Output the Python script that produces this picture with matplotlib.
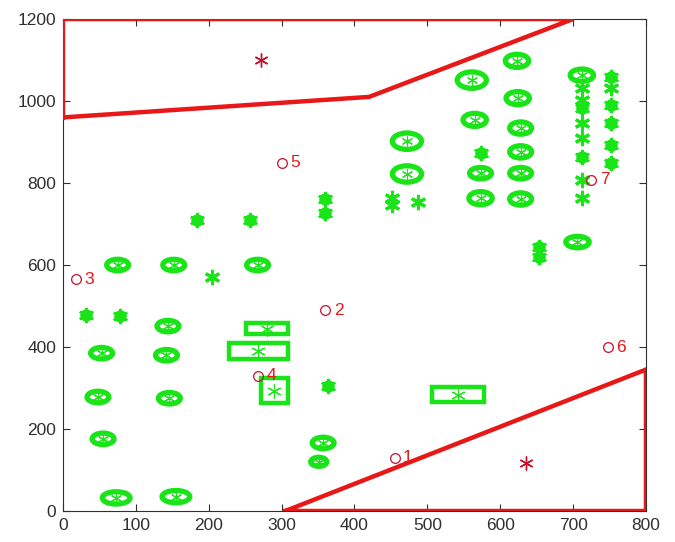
import matplotlib
matplotlib.use("Agg")
import matplotlib.pyplot as plt
from matplotlib.patches import Ellipse, Rectangle

plt.rcParams['font.family'] = ['Liberation Sans', 'DejaVu Sans']

GREEN = '#18e418'
RED = '#e81818'
DARK_RED = '#c8102e'
ASTERISK = (6, 2, 0)

# Boundary polygons (forbidden zones)
top_zone_x = [0, 0, 700, 420, 0]
top_zone_y = [960, 1200, 1200, 1010, 960]
bottom_zone_x = [305, 800, 800, 305]
bottom_zone_y = [0, 0, 345, 0]

# Elliptical obstacles: centre x, centre y, width, height (data units)
ring_x = [75, 152, 267, 144, 53, 142, 48, 146, 55, 73, 155, 357, 351,
          472, 472, 561, 623, 624, 565, 628, 628, 573, 628, 573, 628, 712, 706]
ring_y = [600, 600, 600, 451, 385, 380, 278, 275, 176, 32, 35, 166, 120,
          902, 822, 1051, 1098, 1007, 954, 934, 876, 824, 824, 763, 761, 1063, 656]
ring_w = [30, 30, 30, 30, 30, 30, 30, 30, 30, 38, 38, 30, 22,
          40, 40, 40, 32, 32, 32, 30, 30, 30, 30, 32, 30, 32, 32]
ring_h = [28, 28, 28, 28, 28, 28, 28, 28, 28, 30, 30, 28, 22,
          40, 40, 40, 32, 32, 32, 30, 30, 28, 28, 32, 30, 30, 28]

# Small solid obstacles
blob_x = [184, 257, 32, 78, 364, 359, 359, 573, 653, 653,
          712, 712, 752, 752, 752, 752, 752]
blob_y = [710, 710, 478, 476, 305, 761, 727, 873, 644, 620,
          983, 863, 1059, 990, 946, 893, 849]

# Point obstacles
star_x = [204, 451, 451, 487, 712, 712, 712, 712, 712, 712, 752]
star_y = [571, 763, 746, 754, 1032, 1002, 946, 910, 807, 763, 1032]

# Rectangular obstacles: centre x, centre y, width, height
rect_x = [280, 268, 290, 542]
rect_y = [445, 390, 293, 284]
rect_w = [57, 81, 37, 72]
rect_h = [26, 39, 61, 36]

# Numbered waypoints
wp_x = [455, 360, 18, 268, 300, 748, 725]
wp_y = [130, 490, 565, 330, 850, 400, 808]
wp_labels = ['1', '2', '3', '4', '5', '6', '7']

# Goal markers
goal_x = [272, 635]
goal_y = [1100, 117]

fig = plt.figure(figsize=(6.75, 5.42), dpi=100)
ax = fig.add_axes([0.0933, 0.0572, 0.8637, 0.9077])

for x, y, w, h in zip(ring_x, ring_y, ring_w, ring_h):
    ax.add_patch(Ellipse((x, y), w, h, fill=False, edgecolor=GREEN, lw=3.8, zorder=3))
ax.plot(ring_x, ring_y, marker=ASTERISK, ls='none', color=GREEN, ms=8, mew=0.8, zorder=4)

ax.plot(blob_x, blob_y, 'o', color=GREEN, ms=8, mec=GREEN, zorder=3)
ax.plot(blob_x, blob_y, marker=ASTERISK, ls='none', color=GREEN, ms=11, mew=1.6, zorder=4)
ax.plot(star_x, star_y, marker=ASTERISK, ls='none', color=GREEN, ms=11, mew=2.2, zorder=4)

for x, y, w, h in zip(rect_x, rect_y, rect_w, rect_h):
    ax.add_patch(Rectangle((x - w / 2, y - h / 2), w, h, fill=False,
                           edgecolor=GREEN, lw=3.2, zorder=3))
ax.plot(rect_x, rect_y, marker=ASTERISK, ls='none', color=GREEN, ms=10, mew=0.8, zorder=4)

ax.plot(top_zone_x, top_zone_y, color=RED, lw=3.2, zorder=5, solid_joinstyle='miter')
ax.plot(bottom_zone_x, bottom_zone_y, color=RED, lw=3.2, zorder=5, solid_joinstyle='miter')

ax.plot(wp_x, wp_y, 'o', mfc='none', mec=DARK_RED, ms=7, mew=0.9, zorder=6)
for x, y, t in zip(wp_x, wp_y, wp_labels):
    ax.annotate(t, (x, y), xytext=(6, 0), textcoords='offset points',
                color=RED, fontsize=12.5, va='center', ha='left', zorder=6)

ax.plot(goal_x, goal_y, marker=ASTERISK, ls='none', color=DARK_RED, ms=10, mew=1.0, zorder=6)

ax.set_xlim(0, 800)
ax.set_ylim(0, 1200)
ax.set_xticks(range(0, 801, 100))
ax.set_yticks(range(0, 1201, 200))
ax.tick_params(direction='in', top=True, right=True, length=5, width=0.8,
               labelsize=12.5, colors='#303030', pad=5)
for s in ax.spines.values():
    s.set_color('#303030')
    s.set_linewidth(0.8)

fig.savefig('out.png', dpi=100)
